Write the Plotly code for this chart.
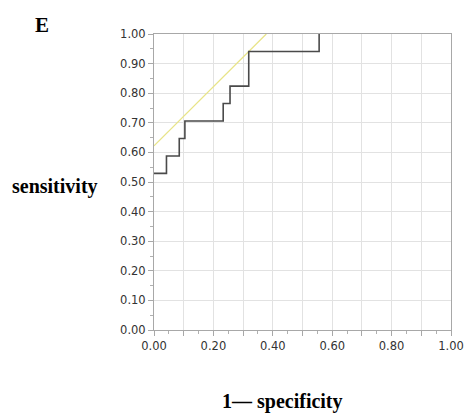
import plotly.graph_objects as go

# ROC step curve (1 - specificity, sensitivity)
fpr = [0.0, 0.042, 0.042, 0.085, 0.085, 0.104, 0.104, 0.233, 0.233, 0.256, 0.256, 0.319, 0.319, 0.556, 0.556]
tpr = [0.529, 0.529, 0.588, 0.588, 0.647, 0.647, 0.706, 0.706, 0.765, 0.765, 0.824, 0.824, 0.941, 0.941, 1.0]

# Reference line of slope 1 through the optimal cut-off point
cut_fpr, cut_tpr = 0.319, 0.941
ref_x = [0.0, 1.0 - (cut_tpr - cut_fpr)]
ref_y = [cut_tpr - cut_fpr, 1.0]

x_tickvals = [round(i * 0.1, 1) for i in range(11)]
x_ticktext = [f"{v:.2f}" if i % 2 == 0 else "" for i, v in enumerate(x_tickvals)]
y_tickvals = [round(i * 0.1, 1) for i in range(11)]
y_ticktext = [f"{v:.2f}" for v in y_tickvals]

W, H = 464, 414
L, R, T, B = 154, 451, 34, 330

fig = go.Figure()
fig.add_trace(go.Scatter(x=ref_x, y=ref_y, mode="lines",
                         line=dict(color="#e8e488", width=1.3),
                         hoverinfo="skip", showlegend=False))
fig.add_trace(go.Scatter(x=fpr, y=tpr, mode="lines",
                         line=dict(color="#4a4a4a", width=1.6),
                         showlegend=False))

axis_common = dict(
    range=[0, 1], showgrid=True, gridcolor="#e2e2e2", gridwidth=1,
    showline=True, linecolor="#a8a8a8", linewidth=1, mirror=True,
    ticks="outside", ticklen=5, tickcolor="#a8a8a8",
    tickfont=dict(family="DejaVu Sans", size=11.5, color="#333333"),
    zeroline=False, fixedrange=True, automargin=False,
    minor=dict(ticks="outside", ticklen=3, tickcolor="#b0b0b0", dtick=0.05, showgrid=False),
)

fig.update_xaxes(tickmode="array", tickvals=x_tickvals, ticktext=x_ticktext, **axis_common)
fig.update_yaxes(tickmode="array", tickvals=y_tickvals, ticktext=y_ticktext, **axis_common)

def px_x(p):
    return (p - L) / (R - L)

def px_y(p):
    return (B - p) / (B - T)

label_font = dict(family="Liberation Serif", color="#000000")
for txt, cx, cy, size in [("<b>E</b>", 42, 25, 21),
                          ("<b>sensitivity</b>", 55, 186, 20),
                          ("<b>1\u2014 specificity</b>", 282, 401, 20)]:
    fig.add_annotation(text=txt, x=px_x(cx), y=px_y(cy), xref="paper", yref="paper",
                       xanchor="center", yanchor="middle",
                       showarrow=False, font=dict(size=size, **label_font))

fig.update_layout(
    width=W, height=H,
    margin=dict(l=L, r=W - R, t=T, b=H - B),
    paper_bgcolor="white", plot_bgcolor="white",
)

fig.write_html("out.html")
